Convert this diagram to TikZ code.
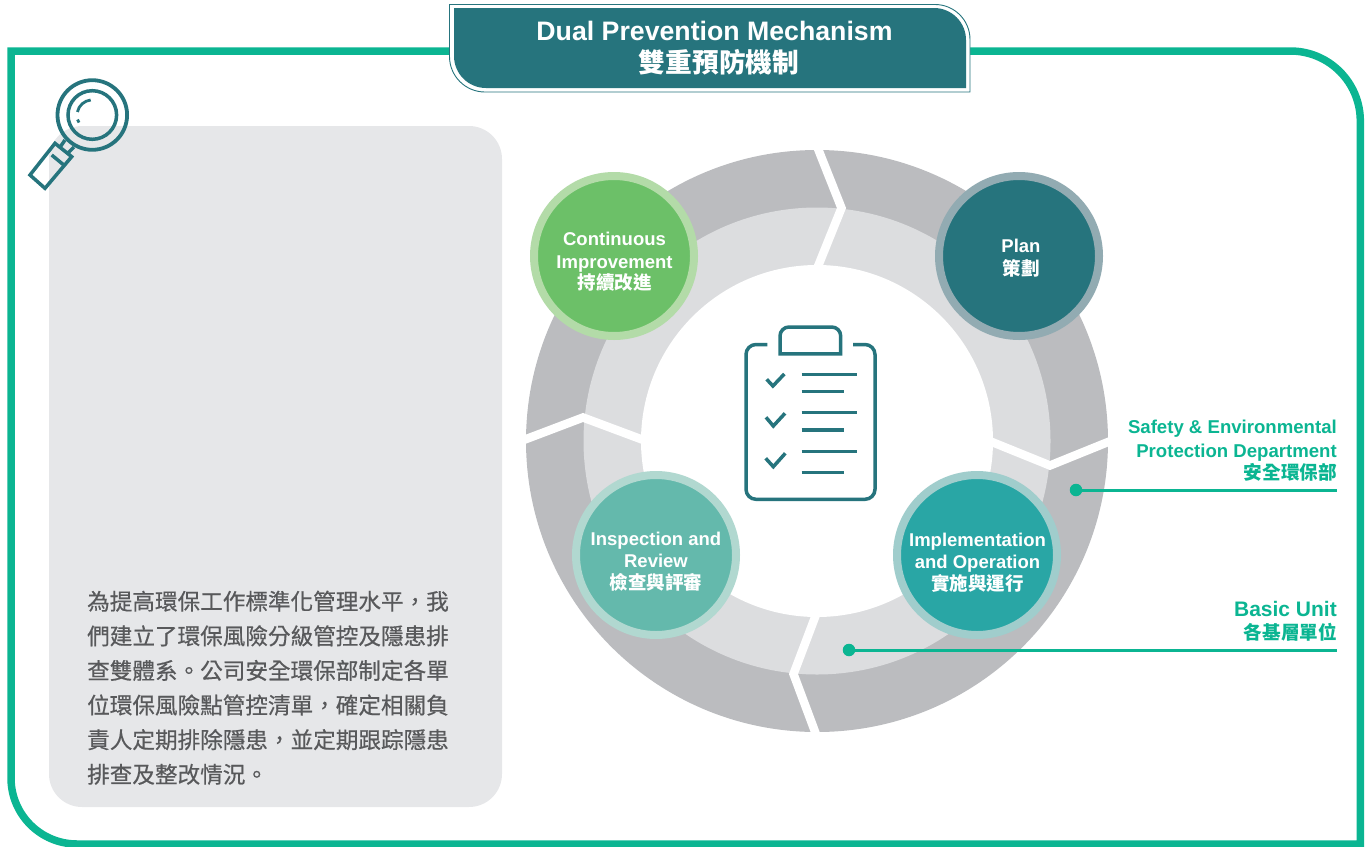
\documentclass[tikz,border=0pt]{standalone}
\usepackage{fontspec}
\setmainfont{Liberation Sans}
\newfontfamily\cjk{Noto Sans CJK TC}
\newfontfamily\cjkbody[FakeBold=0.5]{Noto Sans CJK TC}
\definecolor{frameGreen}{HTML}{0BB592}
\definecolor{teal}{HTML}{26747D}
\definecolor{ringOut}{HTML}{BBBCBF}
\definecolor{ringIn}{HTML}{DCDDDF}
\definecolor{panel}{HTML}{E6E7E9}
\definecolor{bodyText}{HTML}{58595B}
\tikzset{
  sep/.style={white,line width=8.5pt,miter limit=10},
  icon/.style={teal,line width=3.5pt},
  disc/.style={circle,minimum size=160pt,inner sep=0pt,line width=8pt,text=white,align=center,font=\bfseries\fontsize{18.5}{23}\selectfont},
  leader/.style={frameGreen,line width=3pt},
  dotnode/.style={circle,fill=frameGreen,minimum size=12.5pt,inner sep=0pt},
  side/.style={text=frameGreen,align=right,anchor=east,inner sep=0pt,font=\bfseries\fontsize{18.6}{24}\selectfont},
}
\begin{document}
\begin{tikzpicture}[x=1pt,y=-1pt]
\useasboundingbox (0,0) rectangle (1368,846);
% frame
\draw[frameGreen,line width=7.5pt] (11,51) -- (1290.3,51) arc[start angle=-90,end angle=0,radius=70] -- (1360.3,844) -- (77,844) arc[start angle=90,end angle=180,radius=66] -- cycle;
% panel
\fill[panel,rounded corners=33pt] (49,126) rectangle (502,807);
% ring
\fill[ringOut] (817,441) circle[radius=291];
\fill[ringIn] (817,441) circle[radius=233.5];
\fill[white] (817,441) circle[radius=176];
\draw[sep] (816.5,145) -- (841.5,208) -- (816.5,270);
\draw[sep] (521,441) -- (583,417.5) -- (646,441);
\draw[sep] (817,612) -- (793.5,674) -- (817,737);
\draw[sep] (987,440) -- (1050,465.5) -- (1113,440);
% title
\fill[white] (449.5,4.5) -- (935,4.5) arc[start angle=-90,end angle=0,radius=35] -- (970,92) -- (485,92) arc[start angle=90,end angle=180,radius=35.5] -- cycle;
\draw[teal,line width=0.9pt] (449.5,4.5) -- (935,4.5) arc[start angle=-90,end angle=0,radius=35] -- (970,92) -- (485,92) arc[start angle=90,end angle=180,radius=35.5] -- cycle;
\fill[teal] (454,8) -- (934,8) arc[start angle=-90,end angle=0,radius=32] -- (966,88) -- (486,88) arc[start angle=90,end angle=180,radius=32] -- cycle;
\node[text=white,align=center,font=\bfseries\fontsize{26.7}{31.5}\selectfont] (title) at (714.5,48) {Dual Prevention Mechanism\\\hspace*{9pt}{\cjk 雙重預防機制}};
% magnifier
\draw[icon,line width=3.8pt] (92.3,115) circle[radius=34.8];
\draw[icon] (92.3,115) circle[radius=24.3];
\draw[icon,line width=2.8pt] (90.7,100) arc[start angle=-96,end angle=-168,radius=15.2];
\draw[icon,line width=2.8pt] (77.5,119.5) -- (79,122.5);
\draw[icon,line join=miter] (65,140) -- (60,147.3) (74,147) -- (68,153) (55,143.3) -- (71.7,156.7) -- (45,188.3) -- (30,175) -- cycle (51.7,155) -- (65,166);
% clipboard
\draw[icon,line join=round] (767.3,344.5) -- (756,344.5) arc[start angle=-90,end angle=-180,radius=10] -- (746,489.3) arc[start angle=180,end angle=90,radius=10] -- (865,499.3) arc[start angle=90,end angle=0,radius=10] -- (875,354.5) arc[start angle=0,end angle=-90,radius=10] -- (853,344.5);
\draw[icon] (780,353.8) -- (780,336) arc[start angle=-180,end angle=-90,radius=9] -- (831.7,327) arc[start angle=-90,end angle=0,radius=9] -- (840.7,353.8) -- cycle;
\foreach \yy/\xx in {374.3/857.3,391.7/844.3,412.7/857.3,430/844.3,451.3/857.3,472.7/844.3}
  \draw[icon] (801.7,\yy) -- (\xx,\yy);
\draw[icon] (766.7,379.3) -- (772.9,386) -- (784.3,374);
\draw[icon] (766,417.3) -- (773.3,426) -- (785,413.3);
\draw[icon] (765.7,458.3) -- (773.3,466.7) -- (785.3,453.3);
% discs
\node[disc,draw={rgb,255:red,146;green,171;blue,178},fill=teal] (plan) at (1019,256) {};
\node[disc,draw={rgb,255:red,179;green,219;blue,168},fill={rgb,255:red,108;green,192;blue,104}] (improve) at (614,256) {};
\node[disc,draw={rgb,255:red,177;green,216;blue,208},fill={rgb,255:red,100;green,185;blue,172}] (review) at (656,555) {};
\node[disc,draw={rgb,255:red,160;green,205;blue,204},fill={rgb,255:red,41;green,166;blue,165}] (impl) at (977,555) {};
\node[disc,draw=none,fill=none] (planT) at (1021,258) {Plan\\{\cjk 策劃}};
\node[disc,draw=none,fill=none] (improveT) at (614.5,261.5) {Continuous\\Improvement\\[-2pt]{\cjk 持續改進}};
\node[disc,draw=none,fill=none] (reviewT) at (656,561.5) {Inspection and\\[-1pt]Review\\[-1.5pt]{\cjk 檢查與評審}};
\node[disc,draw=none,fill=none] (implT) at (977.5,562.5) {Implementation\\[-1pt]and Operation\\[-1.5pt]{\cjk 實施與運行}};
% leaders
\node[side] (safety) at (1337,450.5) {Safety \& Environmental\\Protection Department\\[-2.5pt]{\cjk 安全環保部}};
\node[side] (basic) at (1337,621) {{\fontsize{21}{24}\selectfont Basic Unit}\\[-1pt]{\cjk 各基層單位}};
\node[dotnode] (d1) at (1076,490) {};
\coordinate (e1) at (1337,490);
\draw[leader] (d1) -- (e1);
\node[dotnode] (d2) at (849,650) {};
\coordinate (e2) at (1337,650);
\draw[leader] (d2) -- (e2);
% body text
\node[anchor=north west,inner sep=0pt,align=left,text=bodyText,font=\cjkbody\fontsize{22.6}{34.6}\selectfont] (body) at (87,590.5) {為提高環保工作標準化管理水平，我\\們建立了環保風險分級管控及隱患排\\查雙體系。公司安全環保部制定各單\\位環保風險點管控清單，確定相關負\\責人定期排除隱患，並定期跟踪隱患\\排查及整改情況。};
\end{tikzpicture}
\end{document}
